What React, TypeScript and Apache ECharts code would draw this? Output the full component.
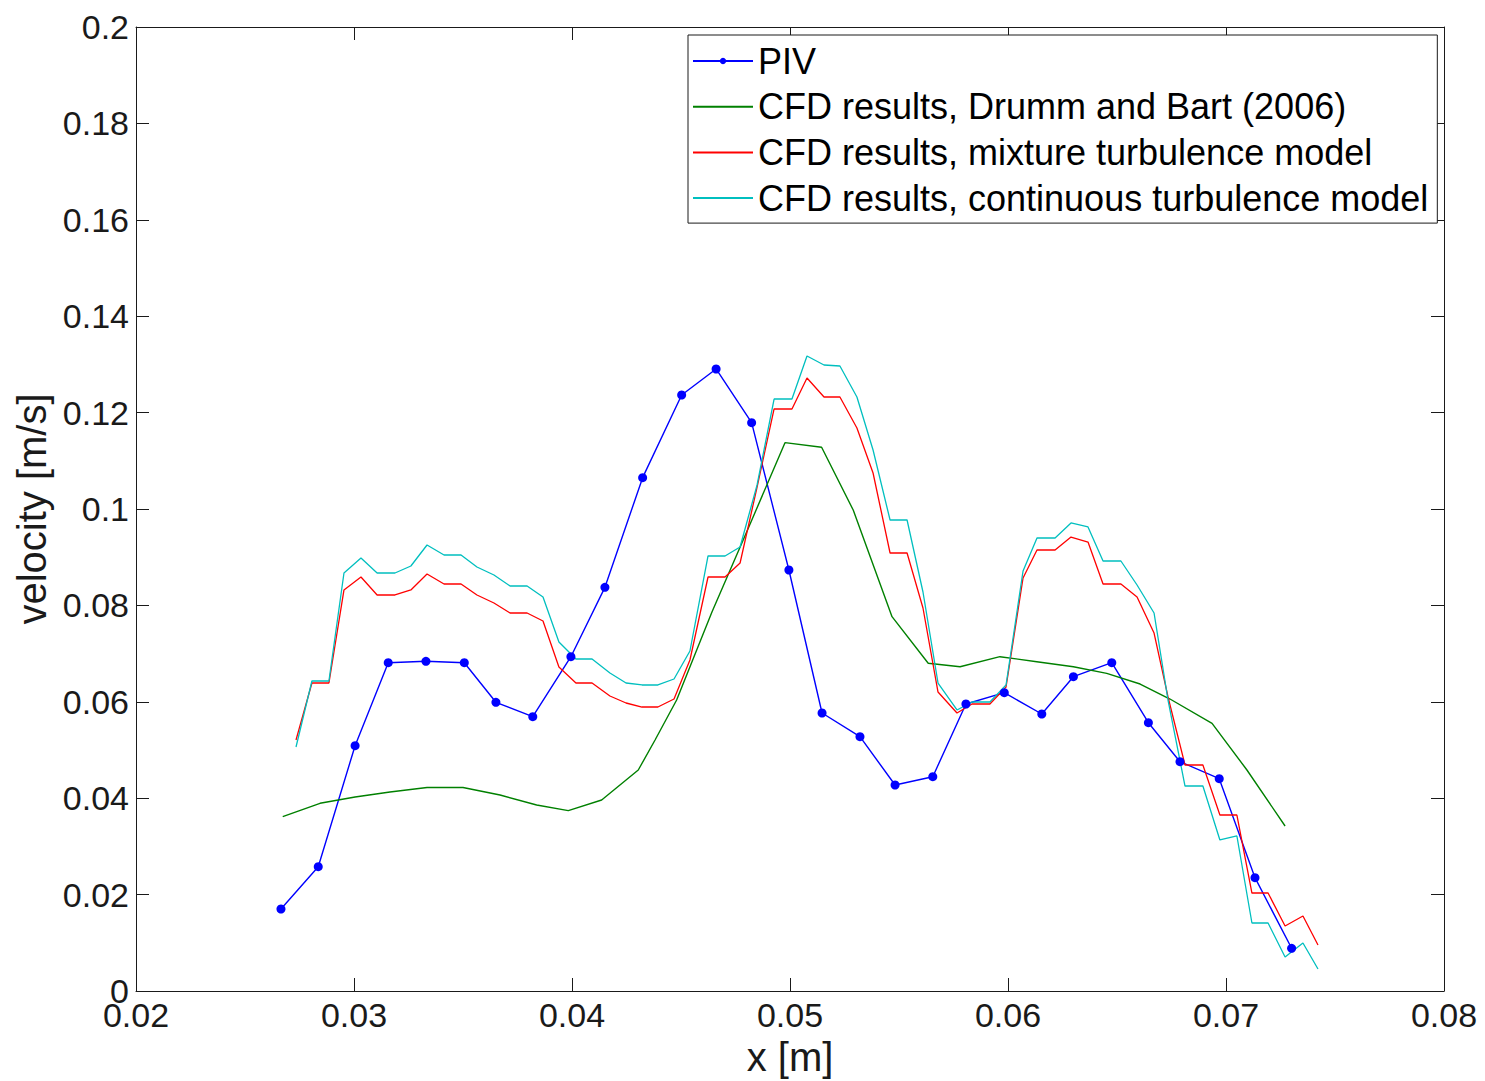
import React, { useEffect, useRef } from "react";
import * as echarts from "echarts";

// PIV measurements (x in m, velocity in m/s)
const xPiv = [
  0.02665, 0.02836, 0.03005, 0.03157, 0.0333, 0.03506, 0.03651, 0.0382, 0.03995, 0.04151,
  0.04324, 0.04503, 0.04661, 0.04824, 0.04995, 0.05147, 0.05321, 0.05482, 0.05655, 0.05807,
  0.05983, 0.06155, 0.063, 0.06476, 0.06644, 0.06789, 0.06969, 0.07133, 0.07301,
];
const vPiv = [
  0.01701, 0.02579, 0.05089, 0.06811, 0.0684, 0.06811, 0.0599, 0.05691, 0.06936, 0.08375,
  0.1065, 0.12365, 0.12905, 0.11791, 0.08734, 0.05768, 0.05276, 0.04274, 0.04446, 0.05954,
  0.06189, 0.05747, 0.06521, 0.06811, 0.05566, 0.04757, 0.04405, 0.02351, 0.00886,
];

// CFD results, Drumm and Bart (2006)
const xDrumm = [
  0.02673, 0.02844, 0.03005, 0.03165, 0.03335, 0.035, 0.0367, 0.03838, 0.03983, 0.04136,
  0.04304, 0.04381, 0.0448, 0.04642, 0.04817, 0.04977, 0.05145, 0.0529, 0.05468, 0.05634,
  0.0578, 0.05963, 0.06132, 0.063, 0.06453, 0.06606, 0.06743, 0.06936, 0.07096, 0.07271,
];
const vDrumm = [
  0.03616, 0.03894, 0.04025, 0.04129, 0.04222, 0.04222, 0.04066, 0.03859, 0.03741, 0.03963,
  0.04585, 0.05207, 0.06037, 0.07863, 0.09689, 0.11376, 0.1128, 0.09979, 0.07766, 0.06799,
  0.06728, 0.06936, 0.06832, 0.06728, 0.06591, 0.06369, 0.06058, 0.05554, 0.04585, 0.03423,
];

// Shared x stations of the two present CFD runs
const xCfd = [
  0.02734, 0.02807, 0.02885, 0.02954, 0.03032, 0.03106, 0.03188, 0.03261, 0.03335, 0.03413,
  0.03491, 0.03564, 0.03642, 0.03716, 0.03794, 0.03867, 0.0394, 0.04018, 0.04092, 0.04174,
  0.04248, 0.04321, 0.04394, 0.04468, 0.04541, 0.04624, 0.04702, 0.04771, 0.04849, 0.04927,
  0.05009, 0.05078, 0.05156, 0.05229, 0.05307, 0.05381, 0.05459, 0.05537, 0.0561, 0.05679,
  0.05766, 0.05835, 0.05917, 0.05991, 0.06069, 0.06133, 0.06216, 0.06289, 0.06367, 0.06436,
  0.06518, 0.06592, 0.0667, 0.06734, 0.06812, 0.06894, 0.06972, 0.0705, 0.07119, 0.07193,
  0.07271, 0.07353, 0.07422,
];
// CFD results, mixture turbulence model
const vMixture = [
  0.05207, 0.0639, 0.0639, 0.0832, 0.08589, 0.08216, 0.08216, 0.0832, 0.08651, 0.08444,
  0.08444, 0.08216, 0.0805, 0.07842, 0.07842, 0.07676, 0.06722, 0.0639, 0.0639, 0.0612,
  0.05975, 0.05892, 0.05892, 0.06058, 0.06867, 0.08589, 0.08589, 0.0888, 0.10456, 0.12075,
  0.12075, 0.12718, 0.12324, 0.12324, 0.1168, 0.10747, 0.09087, 0.09087, 0.07946, 0.06203,
  0.05768, 0.05954, 0.05954, 0.06307, 0.08568, 0.09149, 0.09149, 0.09419, 0.09315, 0.08444,
  0.08444, 0.08174, 0.07427, 0.061, 0.04689, 0.04689, 0.03651, 0.03651, 0.02033, 0.02033,
  0.01349, 0.01556, 0.00954,
];
// CFD results, continuous turbulence model
const vContinuous = [
  0.05062, 0.06432, 0.06432, 0.08672, 0.08983, 0.08672, 0.08672, 0.08817, 0.09253, 0.09046,
  0.09046, 0.08797, 0.08631, 0.08402, 0.08402, 0.08174, 0.07241, 0.06888, 0.06888, 0.06598,
  0.0639, 0.06349, 0.06349, 0.06473, 0.07054, 0.09025, 0.09025, 0.09212, 0.10498, 0.12282,
  0.12282, 0.13174, 0.12988, 0.12967, 0.12324, 0.11224, 0.09772, 0.09772, 0.08278, 0.0639,
  0.0583, 0.05996, 0.05996, 0.06349, 0.08714, 0.09398, 0.09398, 0.0971, 0.09627, 0.08921,
  0.08921, 0.08423, 0.07842, 0.06037, 0.04253, 0.04253, 0.03133, 0.03216, 0.01411, 0.01411,
  0.00705, 0.00996, 0.00456,
];

const seriesNames = [
  "PIV",
  "CFD results, Drumm and Bart (2006)",
  "CFD results, mixture turbulence model",
  "CFD results, continuous turbulence model",
];

const FONT = "'Liberation Sans', Arial, Helvetica, sans-serif";
const INK = "#1a1a1a";

const zip = (xs: number[], ys: number[]) => xs.map((x, i) => [x, ys[i]]);
const fmt = (v: number) => String(parseFloat(v.toFixed(3)));

export default function App() {
  const ref = useRef<HTMLDivElement>(null);

  useEffect(() => {
    if (!ref.current) return;
    const chart = echarts.init(ref.current, undefined, { renderer: "svg" });

    const axisCommon = {
      axisLine: { show: true, onZero: false, lineStyle: { color: INK, width: 1 } },
      axisTick: { show: true, inside: true, length: 13, lineStyle: { color: INK, width: 1 } },
      splitLine: { show: false },
    };

    const xBase = { type: "value" as const, min: 0.02, max: 0.08, interval: 0.01 };
    const yBase = { type: "value" as const, min: 0, max: 0.2, interval: 0.02 };

    chart.setOption({
      animation: false,
      backgroundColor: "#ffffff",
      grid: {
        left: 136,
        right: 41,
        top: 27,
        bottom: 90,
        containLabel: false,
        outerBoundsMode: "none",
      },
      xAxis: [
        {
          ...xBase,
          ...axisCommon,
          position: "bottom",
          name: "x [m]",
          nameLocation: "middle",
          nameGap: 44,
          nameTextStyle: { fontFamily: FONT, fontSize: 40, color: INK },
          axisLabel: {
            fontFamily: FONT,
            fontSize: 34,
            color: INK,
            margin: 7,
            formatter: (v: number) => fmt(v),
          },
        },
        {
          ...xBase,
          ...axisCommon,
          position: "top",
          axisLabel: { show: false },
        },
      ],
      yAxis: [
        {
          ...yBase,
          ...axisCommon,
          position: "left",
          name: "velocity [m/s]",
          nameLocation: "middle",
          nameGap: 78,
          nameTextStyle: { fontFamily: FONT, fontSize: 40, color: INK },
          axisLabel: {
            fontFamily: FONT,
            fontSize: 34,
            color: INK,
            margin: 7,
            formatter: (v: number) => fmt(v),
          },
        },
        {
          ...yBase,
          ...axisCommon,
          position: "right",
          axisLabel: { show: false },
        },
      ],
      legend: {
        orient: "vertical",
        left: 688,
        top: 35,
        padding: [7, 9, 6, 4],
        itemWidth: 60,
        itemHeight: 8,
        itemGap: 7.7,
        backgroundColor: "#ffffff",
        borderColor: INK,
        borderWidth: 1,
        borderRadius: 0,
        textStyle: { fontFamily: FONT, fontSize: 36, color: "#000", lineHeight: 38 },
        data: [
          { name: seriesNames[0] },
          // plain line keys for the curves drawn without markers
          { name: seriesNames[1], itemStyle: { opacity: 0 } },
          { name: seriesNames[2], itemStyle: { opacity: 0 } },
          { name: seriesNames[3], itemStyle: { opacity: 0 } },
        ],
      },
      series: [
        {
          name: seriesNames[0],
          type: "line",
          data: zip(xPiv, vPiv),
          symbol: "circle",
          symbolSize: 9,
          showSymbol: true,
          lineStyle: { color: "#0000ff", width: 1.4 },
          itemStyle: { color: "#0000ff" },
        },
        {
          name: seriesNames[1],
          type: "line",
          data: zip(xDrumm, vDrumm),
          symbol: "none",
          lineStyle: { color: "#008000", width: 1.4 },
          itemStyle: { color: "#008000" },
        },
        {
          name: seriesNames[2],
          type: "line",
          data: zip(xCfd, vMixture),
          symbol: "none",
          lineStyle: { color: "#ff0000", width: 1.3 },
          itemStyle: { color: "#ff0000" },
        },
        {
          name: seriesNames[3],
          type: "line",
          data: zip(xCfd, vContinuous),
          symbol: "none",
          lineStyle: { color: "#00bfbf", width: 1.3 },
          itemStyle: { color: "#00bfbf" },
        },
      ],
    });

    return () => chart.dispose();
  }, []);

  return (
    <div
      ref={ref}
      style={{ position: "fixed", left: 0, top: 0, width: 1485, height: 1081, background: "#fff" }}
    />
  );
}
